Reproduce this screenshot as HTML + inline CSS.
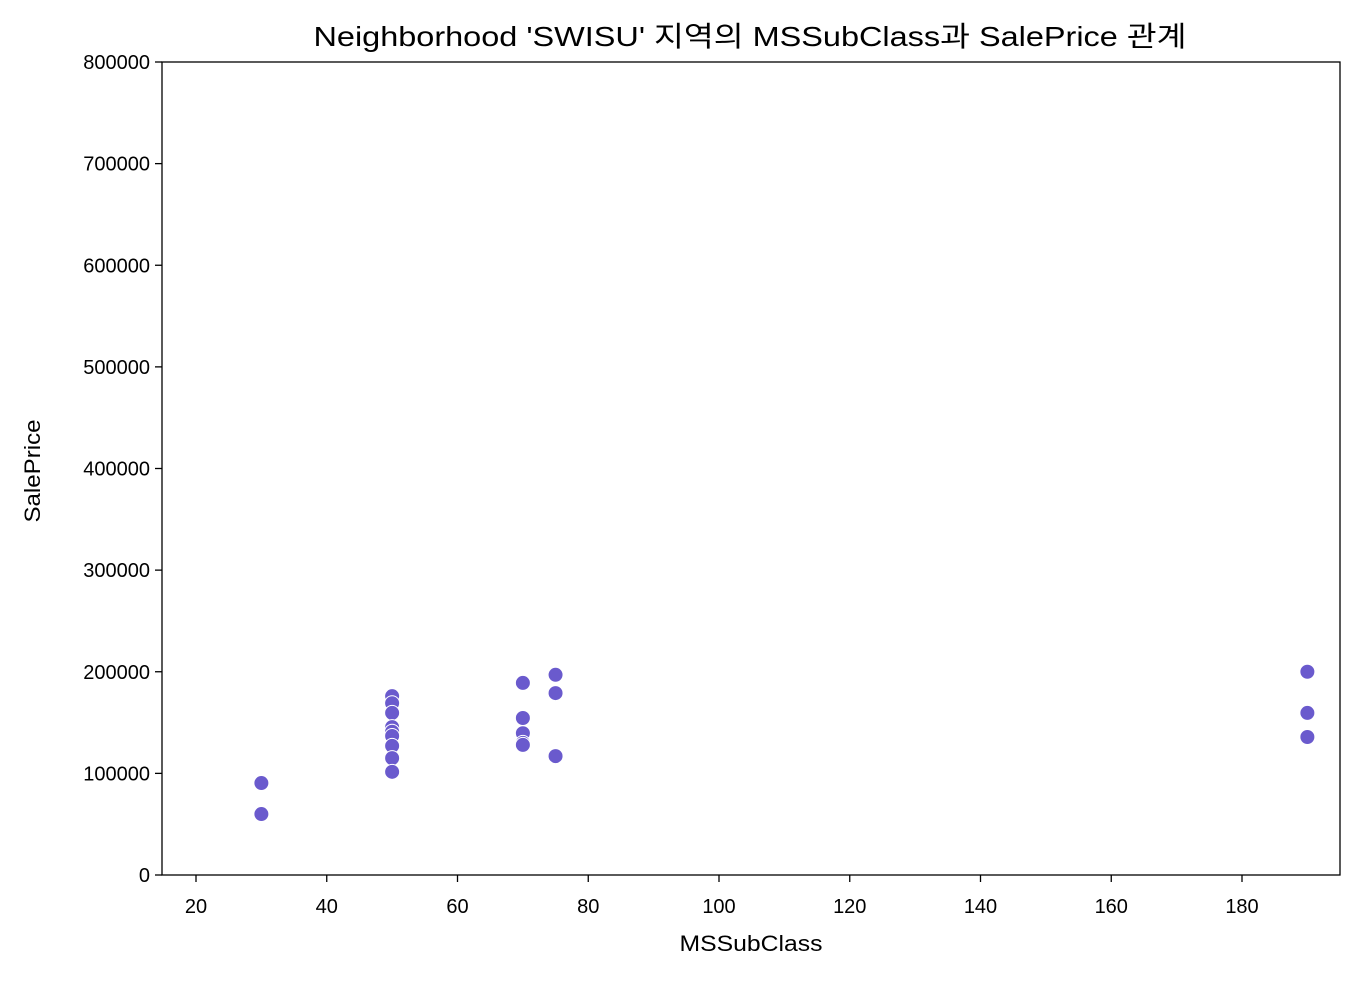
<!DOCTYPE html>
<html><head><meta charset="utf-8"><style>
body{margin:0;background:#fff}
text{font-family:"Liberation Sans","Noto Sans CJK KR",sans-serif;fill:#000}
</style></head><body>
<svg id="chart" width="1359" height="976">
<text x="750" y="46" font-size="28" text-anchor="middle" textLength="873" lengthAdjust="spacingAndGlyphs">Neighborhood 'SWISU' 지역의 MSSubClass과 SalePrice 관계</text>
<g id="axes"></g>
<g id="points"></g>
<rect x="162" y="62" width="1178" height="813" fill="none" stroke="#000" stroke-width="1.3"/>
<text x="751" y="951" font-size="22" text-anchor="middle" textLength="143" lengthAdjust="spacingAndGlyphs">MSSubClass</text>
<text x="40" y="471" font-size="22" text-anchor="middle" textLength="103" lengthAdjust="spacingAndGlyphs" transform="rotate(-90 40 471)">SalePrice</text>
</svg>
<script>
const xs=[30,30,50,50,50,50,50,50,50,50,50,70,70,70,70,70,75,75,75,190,190,190];
const ys=[90500,60000,176000,169000,159500,145500,141000,136800,127000,115000,101500,189000,154500,139500,130000,128000,197000,179000,117000,200000,159500,135800];
const xTicks=[20,40,60,80,100,120,140,160,180];
const yTicks=[0,100000,200000,300000,400000,500000,600000,700000,800000];
const sx=v=>196+(v-20)*(1242-196)/160;
const sy=v=>875-v*(875-62)/800000;
const NS="http://www.w3.org/2000/svg";
const ax=document.getElementById('axes'),pts=document.getElementById('points');
function mk(t,a,p){const e=document.createElementNS(NS,t);for(const k in a)e.setAttribute(k,a[k]);p.appendChild(e);return e;}
xTicks.forEach(v=>{
 const l=mk('line',{x1:sx(v),x2:sx(v),y1:875,y2:882,stroke:'#000','stroke-width':1.3},ax);
 
 
 const t=mk('text',{x:sx(v),y:913,'font-size':20,'text-anchor':'middle'},ax);t.textContent=v;
 
 
});
yTicks.forEach(v=>{
 const l=mk('line',{x1:155,x2:162,y1:sy(v),y2:sy(v),stroke:'#000','stroke-width':1.3},ax);
 
 
 const t=mk('text',{x:150,y:sy(v)+7,'font-size':20,'text-anchor':'end'},ax);t.textContent=v;
 
 
});
xs.forEach((x,i)=>{
 const c=mk('circle',{cx:sx(x),cy:sy(ys[i]),r:7.5,fill:'#6a5acd',stroke:'#fff','stroke-width':1},pts);
 
 
});
</script>
</body></html>
